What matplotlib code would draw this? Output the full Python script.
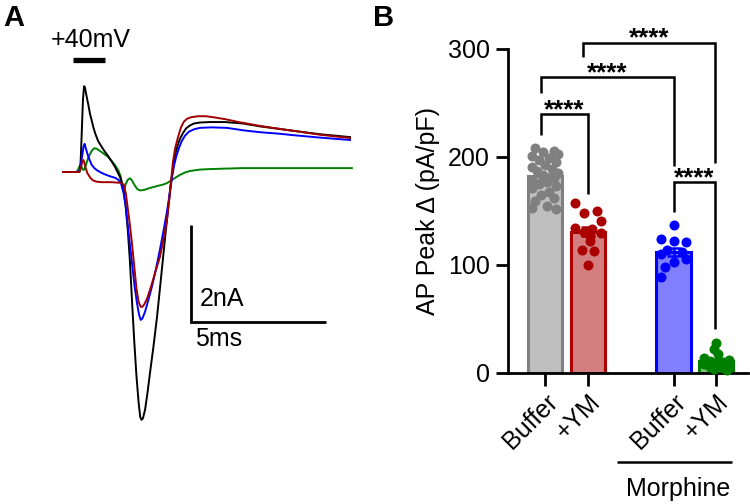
import matplotlib
matplotlib.use("Agg")
import matplotlib.pyplot as plt
import numpy as np

plt.rcParams['font.family'] = ['Liberation Sans', 'DejaVu Sans']

# ---------------- Panel A data (time in ms, current in nA) ----------------
black_t = [0, 0.60, 0.63, 0.66, 0.70, 0.74, 0.78, 0.81, 0.86, 0.94, 1.00, 1.06, 1.12, 1.19, 1.30,
           1.43, 1.55, 1.67, 1.80, 1.93, 2.02, 2.11, 2.18, 2.25, 2.32, 2.40, 2.48, 2.56, 2.64,
           2.72, 2.80, 2.86, 2.91, 2.96, 3.04, 3.13, 3.22, 3.35, 3.48, 3.60, 3.70, 3.80, 3.89,
           3.97, 4.04, 4.11, 4.18, 4.26, 4.33, 4.44, 4.56, 4.70, 4.85, 5.07, 5.44, 6.00, 6.67,
           7.30, 8.00, 8.52, 9.50, 10.63]
black_i = [0, 0, 0.02, 0.30, 0.90, 1.50, 1.77, 1.75, 1.60, 1.38, 1.20, 1.07, 0.93, 0.80, 0.64,
           0.52, 0.42, 0.33, 0.22, 0.10, 0.00, -0.10, -0.22, -0.40, -0.70, -1.20, -1.85, -2.70, -3.50,
           -4.20, -4.75, -5.05, -5.11, -5.08, -4.90, -4.55, -4.15, -3.60, -3.00, -2.35, -1.80, -1.25, -0.78,
           -0.35, -0.05, 0.22, 0.42, 0.57, 0.68, 0.80, 0.90, 0.96, 1.00, 1.02, 1.03, 1.03, 1.00,
           0.94, 0.89, 0.85, 0.78, 0.72]

red_t = [0, 0.60, 0.66, 0.72, 0.75, 0.79, 0.84, 0.90, 1.00, 1.10, 1.25, 1.43, 1.80, 2.04, 2.15,
         2.25, 2.33, 2.41, 2.49, 2.56, 2.64, 2.72, 2.80, 2.88, 2.94, 3.02, 3.12, 3.25, 3.40,
         3.59, 3.72, 3.85, 3.94, 4.00, 4.07, 4.15, 4.26, 4.37, 4.48, 4.60, 4.75, 5.00, 5.30,
         5.56, 6.00, 6.50, 7.30, 8.00, 8.52, 9.50, 10.63]
red_i = [0, 0, 0.08, 0.22, 0.25, 0.20, 0.08, -0.02, -0.11, -0.17, -0.20, -0.21, -0.21, -0.22, -0.22,
         -0.26, -0.45, -0.80, -1.15, -1.50, -1.95, -2.40, -2.68, -2.78, -2.78, -2.72, -2.60, -2.38, -2.10,
         -1.75, -1.40, -0.99, -0.55, -0.20, 0.20, 0.48, 0.72, 0.92, 1.04, 1.10, 1.13, 1.15, 1.15,
         1.13, 1.09, 1.03, 0.95, 0.89, 0.85, 0.77, 0.70]

blue_t = [0, 0.56, 0.63, 0.70, 0.76, 0.80, 0.85, 0.94, 1.06, 1.16, 1.25, 1.40, 1.56, 1.75, 1.93,
          2.05, 2.15, 2.24, 2.32, 2.40, 2.48, 2.56, 2.65, 2.74, 2.82, 2.88, 2.94, 3.04, 3.17,
          3.30, 3.45, 3.59, 3.72, 3.85, 3.95, 4.04, 4.12, 4.20, 4.30, 4.40, 4.52, 4.66, 4.85,
          5.07, 5.50, 6.07, 6.67, 7.30, 8.00, 8.52, 9.50, 10.63]
blue_i = [0, 0, 0.05, 0.30, 0.52, 0.58, 0.48, 0.31, 0.15, 0.08, 0.04, -0.01, -0.05, -0.09, -0.12,
          -0.16, -0.24, -0.42, -0.70, -1.10, -1.50, -1.90, -2.35, -2.70, -2.95, -3.05, -3.02, -2.88, -2.62,
          -2.35, -1.98, -1.60, -1.22, -0.82, -0.45, -0.10, 0.15, 0.33, 0.50, 0.64, 0.75, 0.83, 0.88,
          0.91, 0.92, 0.91, 0.86, 0.82, 0.79, 0.76, 0.71, 0.66]

green_t = [0, 0.50, 0.56, 0.63, 0.69, 0.75, 0.80, 0.85, 0.92, 1.00, 1.08, 1.16, 1.25, 1.35, 1.43,
           1.55, 1.67, 1.80, 1.93, 2.05, 2.13, 2.19, 2.23, 2.27, 2.32, 2.40, 2.48, 2.55, 2.65,
           2.75, 2.85, 3.00, 3.22, 3.48, 3.70, 3.85, 4.07, 4.33, 4.52, 4.70, 5.07, 5.44, 6.00,
           6.67, 8.00, 9.50, 10.70]
green_i = [0, 0, 0.05, 0.14, 0.10, 0.04, 0.06, 0.15, 0.27, 0.37, 0.45, 0.49, 0.48, 0.44, 0.41,
           0.36, 0.31, 0.23, 0.14, 0.03, -0.08, -0.25, -0.40, -0.38, -0.25, -0.16, -0.13, -0.17, -0.27,
           -0.35, -0.38, -0.37, -0.33, -0.29, -0.26, -0.23, -0.15, -0.06, -0.01, 0.02, 0.05, 0.06, 0.07,
           0.08, 0.08, 0.08, 0.08]

# ---------------- Panel B data ----------------
categories = ['Buffer', '+YM', 'Buffer', '+YM']
positions = [0, 1, 3, 4]
means = [182, 131, 112, 11]
sems = [2.7, 4.3, 4.0, 1.9]

gray_vals = [208, 206, 205, 203, 201, 199, 197, 195, 193, 191, 189, 187, 185, 183, 181, 179, 177,
             175, 173, 171, 168, 165, 162, 159, 155, 153, 152]
gray_off = [-0.25, 0.2, -0.05, 0.3, -0.3, 0.1, -0.15, 0.25, 0.0, -0.3, 0.15, -0.2, 0.3, -0.05, 0.2,
            -0.3, 0.05, -0.15, 0.25, -0.3, 0.1, -0.1, 0.2, -0.25, 0.05, -0.3, 0.25]
red_vals = [157, 150, 148, 141, 134, 133, 131, 130, 127, 122, 114, 113, 100]
red_off = [-0.3, 0.2, -0.1, 0.3, -0.3, 0.1, -0.1, 0.3, 0.05, 0.05, -0.15, 0.15, 0.0]
blue_vals = [137, 124, 122, 121, 114, 112, 110, 106, 103, 98, 89]
blue_off = [0.0, -0.3, 0.0, 0.3, -0.15, 0.2, -0.3, 0.3, 0.0, -0.2, -0.3]
green_vals = [28, 22, 18, 14, 12, 11, 10, 9, 8, 7, 6, 5, 4, 3]
green_off = [0.0, -0.05, 0.05, -0.3, 0.3, -0.15, 0.15, 0.0, -0.3, 0.3, -0.15, 0.15, -0.05, 0.25]

# brackets: (x_left, x_right, y_top, y_left_bottom, y_right_bottom)
brackets = [(-0.1, 1.0, 240, 220, 166),
            (-0.1, 3.0, 274, 259, 192),
            (0.88, 3.96, 306, 293, 194),
            (3.0, 3.98, 177, 149, 41)]
star_text = '****'

face_cols = ['#bfbfbf', '#d47f7f', '#8080ff', '#80c080']
edge_cols = ['#808080', '#aa0000', '#0000ff', '#008000']

W, H = 750, 504
fig = plt.figure(figsize=(W / 100, H / 100), dpi=100)

# ---------------- Panel A ----------------
axA = fig.add_axes([0, 0, 380 / W, 1])
axA.set_xlim(-63 / 27, (380 - 63) / 27)
axA.set_ylim((172 - 504) / 48.5, 172 / 48.5)
axA.axis('off')
lw_tr = 1.4
axA.plot(green_t, green_i, color='#008000', lw=lw_tr, solid_joinstyle='round')
axA.plot(black_t, black_i, color='black', lw=lw_tr, solid_joinstyle='round')
axA.plot(blue_t, blue_i, color='#0000ff', lw=lw_tr, solid_joinstyle='round')
axA.plot(red_t, red_i, color='#a00000', lw=lw_tr, solid_joinstyle='round')
# stimulus bar and scale bars
axA.plot([0.37, 1.56], [2.31, 2.31], color='black', lw=3.8, solid_capstyle='butt')
axA.text(1.04, 2.72, '+40mV', fontsize=18, ha='center', va='center')
axA.plot([4.74, 4.74, 9.74], [-1.09, -3.09, -3.09], color='black', lw=2.0,
         solid_capstyle='butt', solid_joinstyle='miter')
axA.text(5.05, -2.62, '2nA', fontsize=18, ha='left', va='center')
axA.text(4.88, -3.45, '5ms', fontsize=18, ha='left', va='center')
fig.text(3 / W, 1 - 18 / H, 'A', fontsize=21, fontweight='bold', ha='left', va='center')
fig.text(373 / W, 1 - 18 / H, 'B', fontsize=21, fontweight='bold', ha='left', va='center')

# ---------------- Panel B ----------------
axB = fig.add_axes([508 / W, (504 - 373) / H, 240 / W, 324 / H])
axB.set_xlim(-0.87, 4.74)
axB.set_ylim(0, 300)
for p, m, s, fc, ec in zip(positions, means, sems, face_cols, edge_cols):
    axB.bar(p, m, width=0.8, color=fc, edgecolor=ec, linewidth=2.2, zorder=2)
    axB.errorbar(p, m, yerr=s, color=ec, capsize=5, elinewidth=1.8, capthick=1.8, zorder=3)

for p, vals, offs, ec in zip(positions, [gray_vals, red_vals, blue_vals, green_vals],
                             [gray_off, red_off, blue_off, green_off], edge_cols):
    axB.scatter(np.array(offs) + p, vals, s=52, color=ec, zorder=4, linewidths=0, clip_on=False)

for (xl, xr, yt, ylb, yrb) in brackets:
    axB.plot([xl, xl, xr, xr], [ylb, yt, yt, yrb], color='black', lw=1.8, clip_on=False,
             solid_joinstyle='miter', solid_capstyle='butt')
    axB.text((xl + xr) / 2, yt - 3, star_text, fontsize=18.5, ha='center', va='baseline',
             fontweight='bold')

for sp in ['top', 'right']:
    axB.spines[sp].set_visible(False)
for sp in ['left', 'bottom']:
    axB.spines[sp].set_linewidth(2.0)
axB.set_yticks([0, 100, 200, 300])
axB.set_xticks(positions)
axB.set_xticklabels(categories, rotation=45, ha='right', rotation_mode='anchor')
axB.tick_params(axis='both', width=2.0, length=9, labelsize=18, direction='out')
axB.tick_params(axis='y', pad=4)
axB.tick_params(axis='x', pad=3)
axB.set_ylabel('AP Peak Δ (pA/pF)', fontsize=18, labelpad=6)

# Morphine group line and label
axB.plot([1.67, 4.36], [-82, -82], color='black', lw=1.8, clip_on=False,
         solid_capstyle='butt')
axB.text(3.1, -107, 'Morphine', fontsize=18, ha='center', va='center', clip_on=False)

fig.savefig('out.png', dpi=100)
